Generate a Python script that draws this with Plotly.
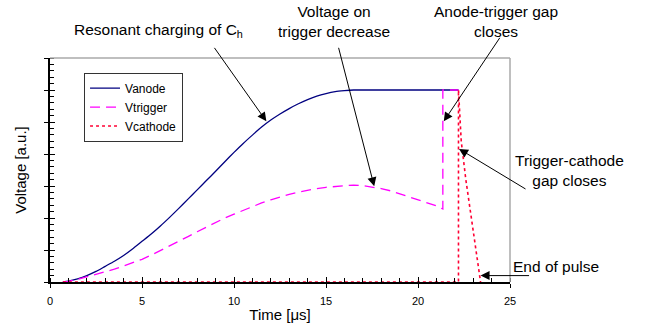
import plotly.graph_objects as go

# ---- data ----
t_anode = [0.7, 1, 1.5, 2, 2.5, 3, 3.5, 4, 4.5, 5, 5.5, 6, 6.5, 7, 7.5, 8, 8.5, 9, 9.5, 10,
           10.5, 11, 11.5, 12, 12.5, 13, 13.5, 14, 14.5, 15, 15.5, 16, 16.5, 17, 22.2]
v_anode = [0, 0.03, 0.1, 0.2, 0.33, 0.49, 0.65, 0.83, 1.04, 1.27, 1.5, 1.75, 2.02, 2.3, 2.59,
           2.88, 3.17, 3.46, 3.76, 4.05, 4.33, 4.59, 4.84, 5.06, 5.25, 5.42, 5.57, 5.70, 5.81,
           5.89, 5.95, 5.98, 6.0, 6.0, 6.0]

t_trigger = [0.7, 1, 1.5, 2, 2.5, 3, 3.5, 4, 4.5, 5, 5.5, 6, 6.5, 7, 7.5, 8, 8.5, 9, 9.5, 10,
             10.5, 11, 11.5, 12, 12.5, 13, 13.5, 14, 14.5, 15, 15.5, 16, 16.5, 17, 17.5, 18,
             18.5, 19, 19.5, 20, 20.5, 21, 21.35, 21.35, 22.2]
v_trigger = [0, 0.02, 0.08, 0.16, 0.23, 0.3, 0.4, 0.5, 0.6, 0.71, 0.84, 0.98, 1.12, 1.27, 1.42,
             1.57, 1.72, 1.86, 2.0, 2.12, 2.24, 2.36, 2.47, 2.57, 2.66, 2.74, 2.81, 2.87, 2.92,
             2.96, 2.99, 3.02, 3.03, 3.01, 2.97, 2.92, 2.85, 2.76, 2.67, 2.58, 2.48, 2.38, 2.28,
             6.0, 6.0]

t_cathode = [0.7, 22.2, 22.2, 22.35, 22.6, 23.0, 23.4]
v_cathode = [0, 0, 6, 4.4, 3.2, 1.6, 0]

x_ticks = [0, 5, 10, 15, 20, 25]

FONT = "Arial, Liberation Sans, sans-serif"

fig = go.Figure()
fig.add_trace(go.Scatter(x=t_anode, y=v_anode, mode="lines", name="Vanode",
                         line=dict(color="#000080", width=1.3, shape="spline", smoothing=0.6)))
fig.add_trace(go.Scatter(x=t_trigger, y=v_trigger, mode="lines", name="Vtrigger",
                         line=dict(color="#FF00FF", width=1.3, dash="10px,6px")))
# cathode trace on overlay axes (identical ranges) so the overlay ticks render
fig.add_trace(go.Scatter(x=t_cathode, y=v_cathode, mode="lines", name="Vcathode",
                         xaxis="x2", yaxis="y2",
                         line=dict(color="#FF0033", width=1.6, dash="3px,3px")))

fig.update_layout(
    width=649, height=329,
    margin=dict(l=50, r=139, t=58, b=47, autoexpand=False),
    paper_bgcolor="white", plot_bgcolor="white",
    font=dict(family=FONT, size=11, color="black"),
    showlegend=True,
    legend=dict(x=0.074, y=0.935, xanchor="left", yanchor="top",
                bordercolor="#333333", borderwidth=1, bgcolor="white",
                font=dict(size=12), tracegroupgap=0, itemwidth=30),
    xaxis=dict(range=[0, 25], tickvals=x_ticks, ticktext=[str(v) for v in x_ticks],
               automargin=False,
               showgrid=False, zeroline=False, showline=True, linecolor="black", linewidth=1.5,
               ticks="outside", ticklen=4, tickwidth=1, tickcolor="black",
               minor=dict(dtick=1, ticks="inside", ticklen=4, tickcolor="black", tickwidth=1, showgrid=False),
               tickfont=dict(size=11), ticklabelstandoff=4,
               title=dict(text="Time [μs]", font=dict(size=15), standoff=4)),
    yaxis=dict(range=[0, 7], dtick=1, showticklabels=False, automargin=False,
               showgrid=False, zeroline=False, showline=True, linecolor="black", linewidth=1.5,
               ticks="outside", ticklen=4, tickwidth=1, tickcolor="black",
               minor=dict(dtick=0.2, ticks="inside", ticklen=4, tickcolor="black", tickwidth=1, showgrid=False),
               title=dict(text="Voltage [a.u.]", font=dict(size=15), standoff=14)),
    xaxis2=dict(range=[0, 25], overlaying="x", anchor="y2", side="bottom", tickvals=x_ticks,
                automargin=False, showticklabels=False, showgrid=False, zeroline=False, showline=False,
                ticks="inside", ticklen=5, tickcolor="black", tickwidth=1),
    yaxis2=dict(range=[0, 7], overlaying="y", anchor="x2", side="left", dtick=1,
                automargin=False, showticklabels=False, showgrid=False, zeroline=False, showline=False,
                ticks="inside", ticklen=5, tickcolor="black", tickwidth=1),
)

# top and right frame (light gray)
fig.add_shape(type="line", xref="paper", yref="paper", x0=0, x1=1, y0=1, y1=1,
              line=dict(color="#AAAAAA", width=1.5))
fig.add_shape(type="line", xref="paper", yref="paper", x0=1, x1=1, y0=0, y1=1,
              line=dict(color="#AAAAAA", width=1.5))

ann_font = dict(family=FONT, size=15.5, color="black")
arrow_kw = dict(showarrow=True, arrowhead=2, arrowsize=1.8, arrowwidth=1, arrowcolor="black",
                axref="pixel", ayref="pixel")


def px_to_paper(px, py):
    return ((px - 50) / (649 - 50 - 139), (329 - 47 - py) / (329 - 58 - 47))


labels = [
    ("Resonant charging of C<sub>h</sub>", 158, 30),
    ("Voltage on<br>trigger decrease", 334, 22),
    ("Anode-trigger gap<br>closes", 496, 22),
    ("Trigger-cathode<br>gap closes", 569, 170),
    ("End of pulse", 556, 266),
]
for text, px, py in labels:
    xp, yp = px_to_paper(px, py)
    fig.add_annotation(text=text, xref="paper", yref="paper", x=xp, y=yp,
                       xanchor="center", yanchor="middle", showarrow=False,
                       font=ann_font, align="center")

# arrows: tip in data coordinates, tail offset in pixels
arrows = [
    (11.76, 5.02, -53, -75),
    (17.62, 2.99, -36, -140),
    (21.40, 5.02, 57, -85),
    (22.23, 4.16, 68, 41),
    (23.40, 0.2, 50, 0),
]
for x, y, ax, ay in arrows:
    fig.add_annotation(x=x, y=y, xref="x", yref="y", ax=ax, ay=ay, text="", **arrow_kw)

fig.write_html("out.html", config={"displayModeBar": False},
               post_script="document.body.style.margin='0';document.body.style.padding='0';")
